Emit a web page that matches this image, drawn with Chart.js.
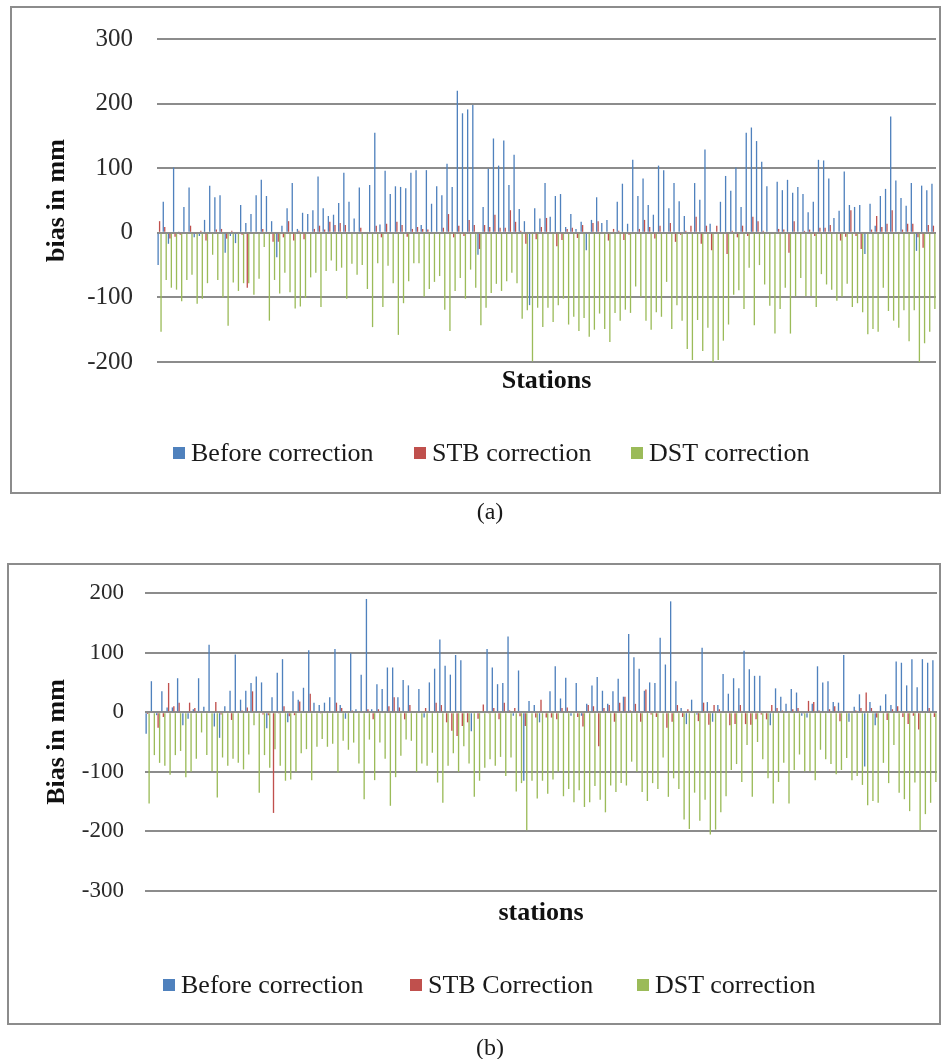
<!DOCTYPE html>
<html lang="en">
<head>
<meta charset="UTF-8">
<title>Bias per station</title>
<script src="https://cdn.jsdelivr.net/npm/chart.js"></script>
<style>
  body { margin: 0; background: #fff; }
  #page { position: relative; width: 952px; height: 1059px; font-family: 'Liberation Serif', 'DejaVu Serif', serif; color: #1a1a1a; }
  .box { position: absolute; border: 2px solid #8c8c8c; box-sizing: border-box; }
  canvas { position: absolute; left: 0; }
  .item { position: absolute; display: flex; align-items: center; font-size: 26px; line-height: 26px; white-space: nowrap; }
  .item i { display: inline-block; width: 12px; height: 12px; margin-right: 6px; }
  .cap { position: absolute; font-size: 24px; transform: translateX(-50%); }
</style>
</head>
<body>
<div id="page">
  <div class="box" style="left:10px;top:6px;width:931px;height:488px"></div>
  <div class="box" style="left:7px;top:563px;width:934px;height:462px"></div>

  <canvas id="chartA" width="952" height="540" style="top:0"></canvas>
  <canvas id="chartB" width="952" height="514" style="top:545px"></canvas>

  <!-- legends -->
  <div class="item" style="left:173px;top:440px"><i style="background:#4F81BD"></i>Before correction</div>
  <div class="item" style="left:414px;top:440px"><i style="background:#C0504D"></i>STB correction</div>
  <div class="item" style="left:631px;top:440px"><i style="background:#9BBB59"></i>DST correction</div>

  <div class="item" style="left:163px;top:972px"><i style="background:#4F81BD"></i>Before correction</div>
  <div class="item" style="left:410px;top:972px"><i style="background:#C0504D"></i>STB Correction</div>
  <div class="item" style="left:637px;top:972px"><i style="background:#9BBB59"></i>DST correction</div>

  <div class="cap" style="left:490px;top:498px">(a)</div>
  <div class="cap" style="left:490px;top:1034px">(b)</div>
</div>

<script>
// station categories (151 stations, labels hidden on the axis)
const stations = Array.from({ length: 151 }, (_, i) => 'S' + (i + 1));

const yTicksA = [300, 200, 100, 0, -100, -200];
const yTicksB = [200, 100, 0, -100, -200, -300];

// (a) bias in mm
const beforeA = [-50, 48, -17, 101, 2, 40, 70, -7, -5, 20, 73, 55, 58, -31, -5, -16, 43, 15, 29, 58, 82, 57, 18, -38, 11, 38, 77, 6, 31, 29, 35, 87, 38, 26, 28, 46, 93, 48,
  22, 70, 0, 74, 155, 13, 96, 60, 72, 71, 69, 93, 97, 12, 97, 45, 72, 58, 107, 71, 220, 185, 191, 198, -34, 40, 99, 146, 104, 143, 74, 121, 37, 18, -112, 38, 22, 77,
  25, 57, 60, 9, 29, 6, 17, -27, 20, 55, 15, 20, 0, 48, 76, 14, 113, 57, 84, 43, 28, 104, 97, 38, 77, 49, 26, 0, 77, 51, 129, 14, 0, 48, 88, 65, 101,
  40, 155, 163, 142, 110, 72, 0, 79, 66, 82, 62, 71, 60, 32, 48, 113, 112, 84, 23, 34, 95, 43, 40, 43, -33, 45, 11, 57, 68, 180, 81, 54, 42, 77, -28, 73, 66, 76];
const stbA = [18, 9, -9, -6, -3, 0, 11, -2, 3, -12, 0, 5, 6, -9, 3, 0, -3, -85, 0, 0, 6, 0, -14, -14, -7, 18, -12, 3, -10, 0, 6, 11, 5, 17, 12, 15, 12, 0,
  0, 8, 0, 0, 11, -7, 14, 0, 17, 12, -6, 6, 9, 6, 5, 0, 0, 8, 29, -7, 11, -5, 20, 12, -25, 12, 9, 28, 8, 8, 35, 17, 3, -17, 0, -10, 9, 23,
  0, -21, -11, 6, 8, -8, 12, 0, 15, 18, 0, -12, 6, 3, -11, -3, 0, 6, 20, 9, -9, 11, 0, 15, -14, -3, 3, 11, 25, -17, 11, -27, 11, 0, -33, 3, -7,
  11, -5, 25, 18, 3, 0, 0, 6, 5, -31, 18, 0, 3, 5, -5, 8, 8, 12, 0, -12, -6, 35, -5, -25, 0, 5, 26, 9, 14, 35, 0, 5, 14, 14, -7, -23, 12, 11];
const dstA = [-153, -73, -85, -88, -106, -73, -65, -110, -102, -78, -34, -73, -100, -144, -77, -90, -78, -78, -96, -71, -22, -136, -73, -94, -62, -92, -117, -114, -101, -69, -62, -115, -59, -43, -59, -54, -102, -48,
  -65, -50, -87, -146, -47, -115, -51, -78, -158, -109, -75, -47, -47, -99, -87, -76, -67, -119, -152, -90, -70, -102, -57, -85, -143, -116, -93, -79, -90, -75, -62, -78, -133, -120, -199, -116, -146, -116,
  -138, -112, -102, -142, -130, -152, -132, -161, -150, -125, -149, -169, -124, -136, -119, -124, -83, -99, -136, -150, -123, -130, -76, -149, -112, -136, -180, -197, -135, -183, -147, -204, -197, -167, -142, -96, -89,
  -118, -54, -143, -50, -80, -113, -156, -118, -85, -156, -98, -70, -98, -98, -115, -64, -80, -88, -105, -99, -79, -115, -109, -123, -157, -149, -153, -85, -121, -136, -147, -120, -168, -120, -200, -171, -153, -118];

// (b) bias in mm
const beforeB = [-36, 52, -5, 35, 8, 8, 57, -22, -11, 5, 57, 9, 113, -24, -43, 10, 36, 97, 21, 36, 49, 60, 50, -27, 25, 66, 89, -17, 35, 21, 41, 104, 16, 12, 16, 25, 106,
  12, -11, 99, 5, 63, 190, 5, 47, 39, 75, 75, 25, 54, 45, 0, 39, -9, 50, 73, 122, 78, 63, 96, 87, 0, -32, 0, 0, 106, 75, 47, 49, 127, -6, 70, -115, 19, 12,
  -17, 0, 35, 77, 23, 58, -6, 49, -6, 14, 45, 59, 36, 14, 35, 56, 26, 131, 92, 73, 36, 50, 49, 125, 80, 186, 52, 7, -20, 21, -4, 108, 17, -16, 12, 64, 31,
  57, 40, 103, 72, 61, 61, 0, -22, 40, 26, 14, 39, 33, -6, -9, 14, 77, 50, 52, 17, 16, 96, -16, 9, 30, -91, 17, -22, 11, 30, 12, 85, 83, 45, 89, 42, 89, 83, 87];
const stbB = [-3, 0, -26, -8, 49, 10, 16, 0, 16, 7, 0, 0, 0, 17, -4, 0, -13, 0, 3, 8, 35, 0, -4, -5, -169, -2, 10, -7, -5, 18, 0, 31, 0, -2, 0, 0, 16,
  7, 0, 3, 0, 0, 5, -12, 5, 0, 10, 25, 8, -12, 12, 0, 0, 7, 0, 16, 12, -17, -31, -40, -23, -17, 0, -11, 13, -2, 7, -12, 16, 3, 7, -7, -23, 0, -9,
  21, -9, -9, -12, 7, 8, 0, -8, -24, 12, 10, -57, 7, 12, -16, 16, 26, 3, 14, -16, 38, -4, -8, 0, -26, -16, 12, -8, 5, 0, -15, 16, -21, 12, 5, 0, -22,
  -20, 12, -20, -21, -12, -4, -12, 12, 7, 3, 0, 5, 7, -2, 19, 17, 3, 0, 5, 10, -15, 0, 0, 3, 7, 33, 7, -9, 0, -13, 5, 10, -8, -20, -6, -29, 0, 7, -8];
const dstB = [-153, -72, -85, -90, -105, -72, -65, -109, -100, -78, -34, -72, -99, -143, -76, -90, -78, -85, -96, -71, -22, -135, -72, -93, -62, -90, -115, -113, -100, -69, -62, -114, -58, -45, -58, -53, -101,
  -48, -63, -51, -86, -146, -46, -114, -51, -78, -157, -109, -73, -46, -48, -100, -86, -90, -68, -118, -152, -90, -69, -100, -57, -86, -142, -115, -93, -79, -90, -75, -107, -76, -133, -119, -198, -115,
  -145, -115, -137, -113, -100, -141, -129, -151, -131, -159, -151, -124, -147, -168, -123, -134, -119, -123, -83, -100, -134, -149, -119, -129, -76, -142, -111, -129, -180, -196, -135, -182, -147, -205, -197, -168, -141,
  -97, -87, -117, -55, -142, -50, -79, -111, -153, -117, -85, -153, -97, -71, -99, -99, -114, -63, -79, -87, -104, -97, -77, -114, -107, -122, -156, -149, -152, -85, -119, -55, -135, -146, -166, -118, -198, -171, -152, -117];

const serif = "'Liberation Serif', 'DejaVu Serif', serif";

function buildChart(id, blue, red, green, ticks, g) {
  return new Chart(document.getElementById(id), {
    type: 'bar',
    data: {
      labels: stations,
      datasets: [
        { label: 'Before correction', data: blue, backgroundColor: '#4F81BD' },
        { label: g.stbLabel, data: red, backgroundColor: '#C0504D' },
        { label: 'DST correction', data: green, backgroundColor: '#9BBB59' }
      ]
    },
    options: {
      responsive: false,
      animation: false,
      datasets: { bar: { categoryPercentage: 0.85, barPercentage: 0.9 } },
      layout: { padding: { left: 0, top: g.top, right: g.right, bottom: g.bottom } },
      plugins: { legend: { display: false } },
      scales: {
        x: {
          grid: { display: false },
          border: { display: false },
          ticks: { display: false },
          title: { display: true, text: g.xTitle, color: '#111',
                   font: { family: serif, size: 26, weight: 'bold' },
                   padding: { top: 0, bottom: g.xTitlePad } },
          afterFit: s => { s.height = 60; }
        },
        y: {
          min: Math.min(...ticks),
          max: Math.max(...ticks),
          afterBuildTicks: s => { s.ticks = ticks.map(v => ({ value: v })); },
          grid: { color: '#8c8c8c', lineWidth: 2, drawTicks: false },
          border: { display: false },
          ticks: { padding: g.tickPad, color: '#2a2a2a', font: { family: serif, size: g.tickSize } },
          title: { display: true, text: g.yTitle, color: '#111',
                   font: { family: serif, size: 26, weight: 'bold' },
                   padding: { top: 42, bottom: 0 } },
          afterFit: s => { s.width = g.left; }
        }
      }
    }
  });
}

// chart area (a): x 157..936, y 36..362
buildChart('chartA', beforeA, stbA, dstA, yTicksA, {
  stbLabel: 'STB correction', xTitle: 'Stations', yTitle: 'bias in mm',
  left: 157, top: 36, right: 16, bottom: 118, xTitlePad: 25, tickPad: 24, tickSize: 25
});

// chart area (b): x 145..937, y 593..891 (canvas starts at 545)
buildChart('chartB', beforeB, stbB, dstB, yTicksB, {
  stbLabel: 'STB Correction', xTitle: 'stations', yTitle: 'Bias in mm',
  left: 145, top: 48, right: 15, bottom: 108, xTitlePad: 22, tickPad: 21, tickSize: 23
});
</script>
</body>
</html>
